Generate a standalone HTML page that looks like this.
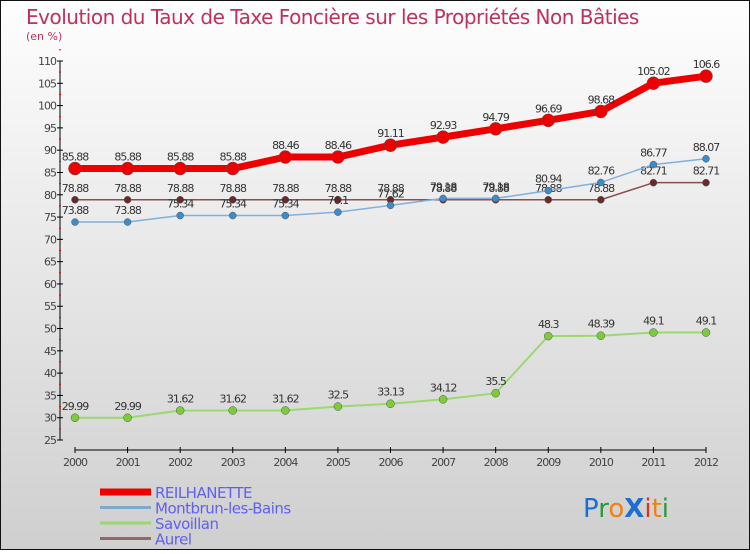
<!DOCTYPE html>
<html><head><meta charset="utf-8"><style>
body{margin:0;}
#c{width:750px;height:550px;position:relative;font-family:"DejaVu Sans","Liberation Sans",sans-serif;}
</style></head><body>
<div id="c">
<svg id="s" width="750" height="550" xmlns="http://www.w3.org/2000/svg">
<defs><linearGradient id="bg" x1="0" y1="0" x2="0" y2="1"><stop offset="0" stop-color="#fefefe"/><stop offset="1" stop-color="#cfcfcf"/></linearGradient></defs>
<rect x="0.5" y="0.5" width="749" height="549" fill="url(#bg)" stroke="#111"/>
<text x="26" y="24" font-size="20" fill="#c0305a" letter-spacing="-0.5">Evolution du Taux de Taxe Foncière sur les Propriétés Non Bâties</text>
<text x="26" y="40" font-size="11" fill="#c0305a">(en %)</text>
<g id="axes"></g><g id="series"></g><g id="legend"></g>
<text x="583" y="517" font-size="26" font-family="'DejaVu Sans',sans-serif"><tspan fill="#1a6fd0">P</tspan><tspan fill="#2a9a3a">r</tspan><tspan fill="#f08010">o</tspan><tspan fill="#1a6fd0" font-weight="bold">X</tspan><tspan fill="#e03020">i</tspan><tspan fill="#f08010">t</tspan><tspan fill="#2a9a3a">i</tspan></text>
</svg></div>
<script>
const years=[2000,2001,2002,2003,2004,2005,2006,2007,2008,2009,2010,2011,2012];
const reilhanette=[85.88,85.88,85.88,85.88,88.46,88.46,91.11,92.93,94.79,96.69,98.68,105.02,106.6];
const montbrun=[73.88,73.88,75.34,75.34,75.34,76.1,77.62,79.18,79.18,80.94,82.76,86.77,88.07];
const savoillan=[29.99,29.99,31.62,31.62,31.62,32.5,33.13,34.12,35.5,48.3,48.39,49.1,49.1];
const aurel=[78.88,78.88,78.88,78.88,78.88,78.88,78.88,78.88,78.88,78.88,78.88,82.71,82.71];
const yTicks=[25,30,35,40,45,50,55,60,65,70,75,80,85,90,95,100,105,110];
const NS="http://www.w3.org/2000/svg";
const x=i=>75+i*(706-75)/(years.length-1);
const y=v=>440-(v-25)*(440-61)/85;
function mk(t,a,p){const e=document.createElementNS(NS,t);for(const k in a)e.setAttribute(k,a[k]);p.appendChild(e);return e;}
const ax=document.getElementById('axes');
let l=mk('line',{x1:60,y1:61,x2:60,y2:440,stroke:'#000'},ax);


yTicks.forEach(v=>{
 mk('line',{x1:57,x2:63,y1:y(v),y2:y(v),stroke:'#000'},ax);
 mk('line',{x1:59,x2:61,y1:y(v+2.5),y2:y(v+2.5),stroke:'#e00'},ax);
 const t=mk('text',{x:56,y:y(v)+4,'font-size':11,'text-anchor':'end',fill:'#444','letter-spacing':'-1'},ax);
 
 
 t.textContent=v;
});
l=mk('line',{x1:75,y1:450,x2:706,y2:450,stroke:'#000'},ax);


years.forEach((yr,i)=>{
 mk('line',{x1:x(i),x2:x(i),y1:447,y2:453,stroke:'#000'},ax);
 const t=mk('text',{x:x(i),y:466,'font-size':11,'text-anchor':'middle',fill:'#444','letter-spacing':'-1'},ax);
 
 
 t.textContent=yr;
});
const sg=document.getElementById('series');
function draw(vals,color,w,r,name,dot){
 const g=mk('g',{},sg);
 
 
 mk('polyline',{points:vals.map((v,i)=>x(i)+','+y(v)).join(' '),fill:'none',stroke:color,'stroke-width':w,'stroke-linejoin':'round'},g);
 vals.forEach((v,i)=>{
  const c=mk('circle',{cx:x(i),cy:y(v),r:r,fill:dot,stroke:'#555','stroke-width':0.5},g);
  
  
  const t=mk('text',{x:x(i),y:y(v)-8,'font-size':11,'text-anchor':'middle',fill:'#333','letter-spacing':'-1'},g);
  
  
  t.textContent=v;
 });
}
draw(savoillan,'#9ad870',2,4,'savoillan','#7ccc3a');
draw(aurel,'#8a5050',1.5,3.5,'aurel','#6a2a2a');
draw(montbrun,'#80b0dd',1.5,3.5,'montbrun','#3a8ccc');
draw(reilhanette,'#ee0000',7,6.5,'reilhanette','#ee0000');
const lg=document.getElementById('legend');
[['REILHANETTE','#ee0000',7],['Montbrun-les-Bains','#80a8c8',3],['Savoillan','#9ad870',3],['Aurel','#906868',3]].forEach((d,i)=>{
 const g=mk('g',{},lg);
 
 
 const yy=492+i*15.5;
 mk('line',{x1:100,x2:151,y1:yy,y2:yy,stroke:d[1],'stroke-width':d[2]},g);
 const t=mk('text',{x:155,y:yy+6,'font-size':15,fill:'#6060f0','letter-spacing':'-0.5'},g);
 t.textContent=d[0];
});
</script>
</body></html>
